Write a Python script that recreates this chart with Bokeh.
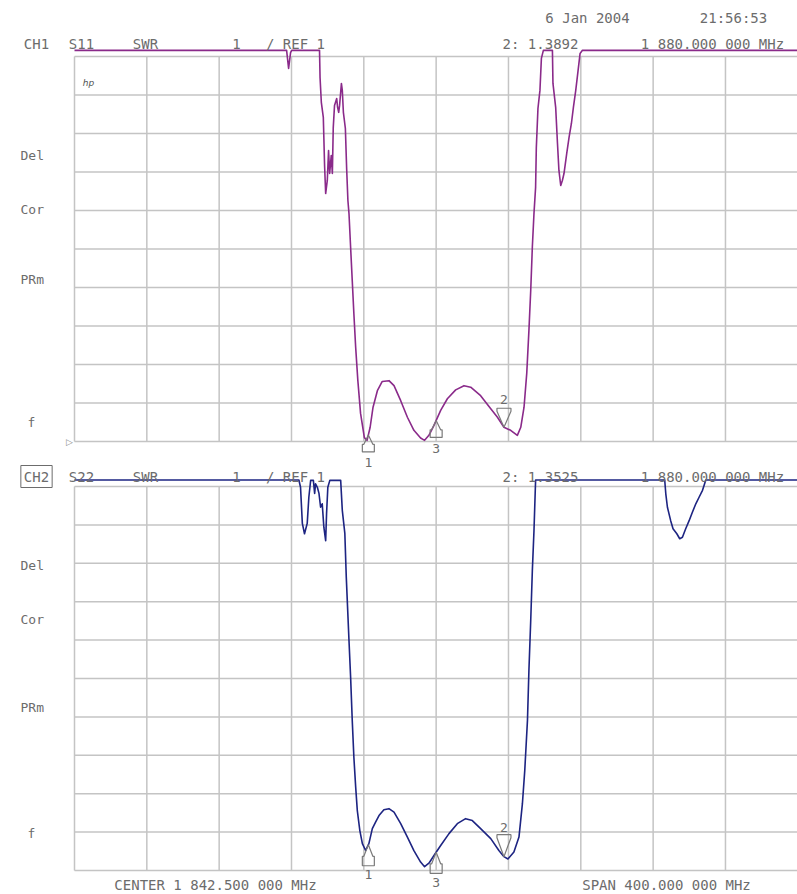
import numpy as np
from bokeh.plotting import figure
from bokeh.models import Range1d, Label
from bokeh.core.properties import value
from bokeh.embed import file_html
from bokeh.resources import INLINE

# ---------------- data ----------------
CENTER_MHZ = 1842.5
SPAN_MHZ = 400.0
N_XDIV = 10
REF_SWR = 1.0
SWR_PER_DIV = 1.0
N_YDIV = 10

ch1_freq = [1642.5, 1759.8, 1760.9, 1762.0, 1762.6, 1778.0, 1778.3, 1779.0, 1780.1, 1780.8,
            1781.4, 1782.3, 1783.0, 1783.6, 1784.5, 1785.1, 1785.6, 1786.3, 1787.5, 1788.0,
            1788.6, 1789.1, 1790.1, 1790.6, 1791.2, 1792.3, 1793.0, 1793.7, 1794.3, 1795.2,
            1796.1, 1797.0, 1798.0, 1799.2, 1800.7, 1802.8, 1804.3, 1806.0, 1807.6, 1810.0,
            1812.7, 1816.4, 1819.2, 1822.9, 1826.6, 1830.2, 1833.9, 1836.1, 1838.5, 1841.3,
            1845.0, 1848.7, 1853.3, 1857.9, 1861.6, 1867.1, 1872.7, 1876.4, 1880.0, 1883.7,
            1887.4, 1889.3, 1891.1, 1892.6, 1893.8, 1894.8, 1895.7, 1896.6, 1897.5, 1897.9,
            1898.8, 1899.9, 1900.7, 1901.8, 1906.8, 1907.1, 1908.6, 1909.6, 1910.4, 1911.4,
            1912.3, 1913.2, 1914.7, 1916.0, 1917.3, 1918.4, 1919.7, 1921.0, 1922.1, 1923.4,
            2042.5]
ch1_swr = [11.16, 11.16, 10.69, 11.10, 11.16, 11.16, 10.45, 9.81, 9.42, 8.17,
           7.44, 7.78, 8.56, 7.96, 8.43, 7.96, 9.16, 9.73, 9.91, 9.68,
           9.55, 9.73, 10.30, 10.12, 9.55, 9.13, 8.09, 7.26, 6.92, 6.04,
           5.18, 4.32, 3.44, 2.58, 1.73, 1.10, 1.03, 1.37, 1.89, 2.32,
           2.56, 2.58, 2.45, 2.06, 1.63, 1.29, 1.09, 1.03, 1.16, 1.42,
           1.81, 2.11, 2.34, 2.45, 2.41, 2.19, 1.85, 1.63, 1.37, 1.29,
           1.16, 1.37, 1.89, 2.77, 3.88, 4.92, 6.05, 6.92, 7.60, 8.64,
           9.65, 10.12, 10.95, 11.16, 11.16, 10.30, 9.68, 8.74, 8.04, 7.65,
           7.78, 7.96, 8.48, 8.90, 9.26, 9.68, 10.12, 10.64, 11.08, 11.16,
           11.16]

ch2_freq = [1642.5, 1766.6, 1767.5, 1768.5, 1769.7, 1771.2, 1772.1, 1773.1, 1774.6, 1775.3,
            1775.8, 1776.8, 1777.7, 1778.6, 1779.5, 1780.4, 1781.4, 1781.9, 1782.6, 1783.7,
            1789.7, 1790.6, 1792.0, 1792.8, 1794.3, 1795.2, 1796.1, 1797.0, 1798.0, 1798.9,
            1800.3, 1801.7, 1803.5, 1805.3, 1807.2, 1809.0, 1810.9, 1813.6, 1816.4, 1819.2,
            1822.9, 1826.6, 1830.2, 1833.9, 1836.1, 1838.5, 1841.3, 1845.0, 1849.6, 1854.2,
            1858.8, 1862.5, 1867.1, 1872.7, 1877.2, 1880.0, 1882.2, 1885.5, 1888.3, 1890.2,
            1891.5, 1893.0, 1893.8, 1894.8, 1895.7, 1896.6, 1897.5, 1968.9, 1969.5, 1970.4,
            1972.2, 1973.5, 1975.6, 1977.2, 1978.7, 1980.5, 1982.4, 1984.2, 1986.1, 1987.9,
            1989.8, 1990.7, 1991.6, 2042.5]
ch2_swr = [11.17, 11.17, 10.98, 10.04, 9.77, 10.04, 10.72, 11.16, 11.16, 10.82,
           11.07, 10.98, 10.82, 10.46, 10.55, 9.94, 9.59, 10.30, 10.98, 11.16,
           11.16, 10.38, 9.78, 8.64, 6.99, 6.03, 4.91, 3.95, 3.17, 2.56,
           2.04, 1.70, 1.52, 1.70, 2.09, 2.26, 2.43, 2.58, 2.61, 2.52,
           2.22, 1.87, 1.52, 1.22, 1.10, 1.19, 1.39, 1.65, 1.96, 2.22,
           2.35, 2.30, 2.09, 1.83, 1.52, 1.36, 1.30, 1.48, 1.87, 2.74,
           3.60, 4.91, 6.21, 7.51, 8.81, 9.85, 11.17, 11.17, 10.81, 10.46,
           10.11, 9.90, 9.77, 9.64, 9.68, 9.90, 10.11, 10.33, 10.55, 10.72,
           10.90, 11.03, 11.17, 11.17]

assert len(ch1_freq) == len(ch1_swr) and len(ch2_freq) == len(ch2_swr)

marker_ids = ["1", "2", "3"]
marker_freq = [1805.0, 1880.0, 1842.5]
marker_dir = ["up", "down", "up"]

timestamp_date = "6 Jan 2004"
timestamp_time = "21:56:53"
ch1_name, ch1_param = "CH1", "S11"
ch2_name, ch2_param = "CH2", "S22"
fmt_label = "SWR"
scale_label = "1"
ref_label = "/ REF 1"
ch1_readout = "2: 1.3892"
ch2_readout = "2: 1.3525"
marker_freq_text = "1 880.000 000 MHz"
center_text = "CENTER 1 842.500 000 MHz"
span_text = "SPAN 400.000 000 MHz"
softkeys = ["Del", "Cor", "PRm", "f"]

# ---------------- layout / style ----------------
W, H = 797, 894
OX, OY = 0, 0
GRID_LEFT = 74 - OX
GRID_RIGHT = 797.3 - OX
CH1_TOP, CH1_BOT = 56 - OY, 441 - OY
CH2_TOP, CH2_BOT = 486 - OY, 870 - OY

MONO = "DejaVu Sans Mono"
TXT = "#6c6c6c"
GRID = "#c4c4c4"
MK = "#7a7a7a"
C1 = "#8a2a8a"
C2 = "#1d2482"

f_start = CENTER_MHZ - SPAN_MHZ / 2
f_stop = CENTER_MHZ + SPAN_MHZ / 2
px_per_mhz = (GRID_RIGHT - GRID_LEFT) / SPAN_MHZ
x_range = Range1d(f_start - GRID_LEFT / px_per_mhz, f_start + (W - GRID_LEFT) / px_per_mhz)


def make_yrange(top, bot):
    ppu = (bot - top) / (N_YDIV * SWR_PER_DIV)
    return Range1d(REF_SWR - (H - bot) / ppu, REF_SWR + bot / ppu), ppu


r1, ppu1 = make_yrange(CH1_TOP, CH1_BOT)
r2, ppu2 = make_yrange(CH2_TOP, CH2_BOT)

p = figure(width=W, height=H, x_range=x_range, y_range=r1,
           output_backend="svg", toolbar_location=None, min_border=0,
           x_axis_type=None, y_axis_type=None)
p.extra_y_ranges = {"ch2": r2}
p.outline_line_color = None
p.background_fill_color = "white"
p.border_fill_color = "white"


def put(X, Y, text, size="14px", align="center", font=MONO, color=TXT, style="normal", **kw):
    p.add_layout(Label(x=X - OX, y=H - (Y - OY), x_units="screen", y_units="screen",
                       text=text, text_align=align, text_baseline="middle",
                       text_font=font, text_font_size=size, text_color=color,
                       text_font_style=style, **kw))


# graticules
grid_f = [f_start + i * SPAN_MHZ / N_XDIV for i in range(N_XDIV + 1)]
grid_s = [REF_SWR + j * SWR_PER_DIV for j in range(N_YDIV + 1)]
for rn in ("default", "ch2"):
    p.segment(x0=grid_f, y0=[grid_s[0]] * len(grid_f), x1=grid_f, y1=[grid_s[-1]] * len(grid_f),
              line_color=GRID, line_width=1.5, y_range_name=rn)
    p.segment(x0=[f_start] * len(grid_s), y0=grid_s, x1=[f_stop] * len(grid_s), y1=grid_s,
              line_color=GRID, line_width=1.5, y_range_name=rn)

# header texts
put(587, 17, timestamp_date)
put(733, 17, timestamp_time)
for (yh, name, param, readout) in ((43, ch1_name, ch1_param, ch1_readout),
                                   (476, ch2_name, ch2_param, ch2_readout)):
    if name == ch2_name:
        put(36, yh, name, border_line_color="#6c6c6c", border_line_width=1, padding=3)
    else:
        put(36, yh, name)
    put(81, yh, param)
    put(145, yh, fmt_label)
    put(236, yh, scale_label)
    put(295, yh, ref_label)
    put(540, yh, readout)
    put(712, yh, marker_freq_text)

# softkey-like labels on the left
for y, t in zip((155, 209, 279, 422), softkeys):
    put(20 if t != "f" else 27, y, t, align="left", size="13px")
for y, t in zip((565, 619, 707, 833), softkeys):
    put(20 if t != "f" else 27, y, t, align="left", size="13px")
put(88, 82, "hp", size="9px", font="DejaVu Sans", style="italic", color="#555555")
put(69, 441, "\u25b7", size="9px", font="DejaVu Sans", color="#8a8a8a")

# footer
put(215, 884, center_text)
put(666, 884, span_text)

# traces
p.line(ch1_freq, ch1_swr, line_color=C1, line_width=1.6, line_join="round")
p.line(ch2_freq, ch2_swr, line_color=C2, line_width=1.6, line_join="round", y_range_name="ch2")


# markers
def draw_markers(freq, swr, ppu, rn, h_up, off_up, h_dn, off_dn):
    vals = np.interp(marker_freq, freq, swr)
    xs, ys, offs = [], [], []
    for mf, mv, d in zip(marker_freq, vals, marker_dir):
        if d == "up":
            k = h_up * 0.55
            shape = [(0, 0), (-4.5, k), (-6, k), (-6, h_up), (6, h_up), (6, k), (4.5, k)]
            offs.append(off_up)
        else:
            shape = [(0, 0), (-7, -(h_dn - 3)), (-7, -h_dn), (7, -h_dn), (7, -(h_dn - 3))]
            offs.append(off_dn)
        xs.append([mf + dx / px_per_mhz for dx, dy in shape])
        ys.append([mv - dy / ppu for dx, dy in shape])
    p.patches(xs, ys, fill_color=None, line_color=MK, line_width=1.2, y_range_name=rn)
    p.text(x=marker_freq, y=list(vals), text=marker_ids, y_offset=offs,
           text_font=value(MONO), text_font_size="13px", text_color=TXT,
           text_align="center", text_baseline="middle", y_range_name=rn)


draw_markers(ch1_freq, ch1_swr, ppu1, "default", 17, 28, 19, -28)
draw_markers(ch2_freq, ch2_swr, ppu2, "ch2", 21, 30, 22, -29)

open("out.html", "w").write(file_html(p, INLINE))
